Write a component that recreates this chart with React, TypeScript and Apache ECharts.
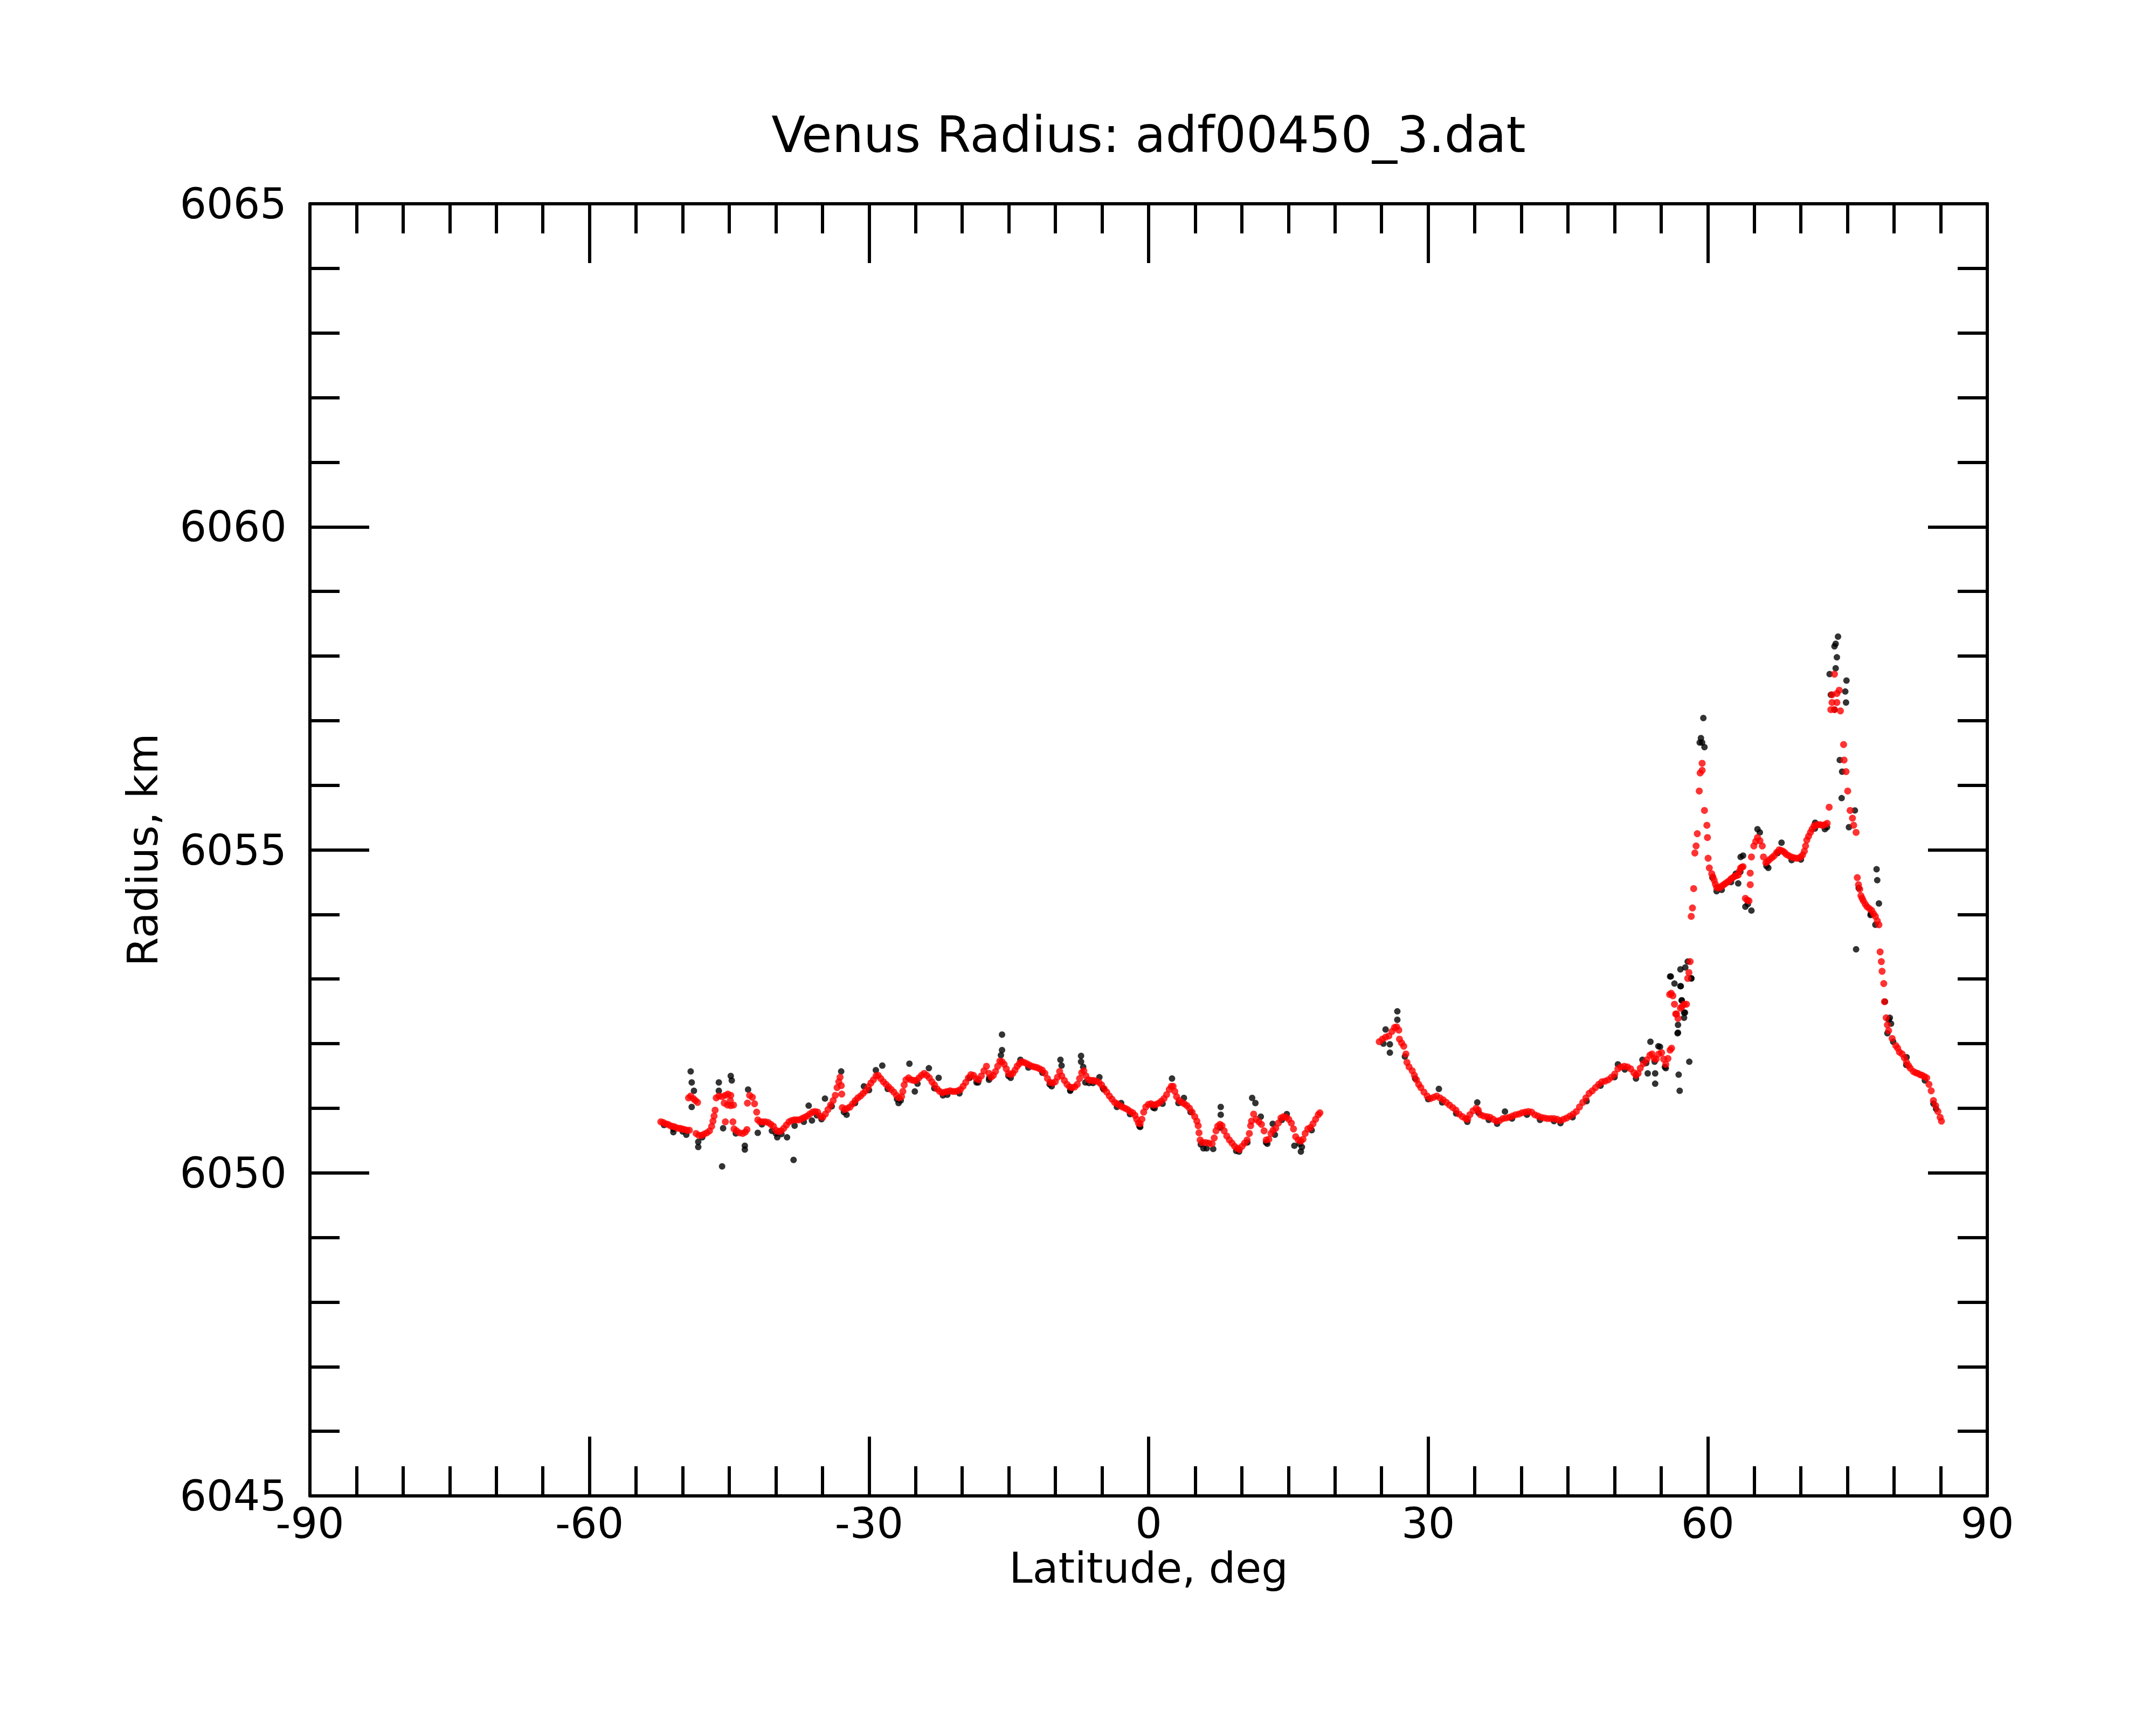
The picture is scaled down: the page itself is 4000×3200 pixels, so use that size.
import React, { useEffect, useRef } from "react";
import * as echarts from "echarts";

const TITLE = "Venus Radius: adf00450_3.dat";
const X_NAME = "Latitude, deg";
const Y_NAME = "Radius, km";
const X_MIN = -90, X_MAX = 90, X_STEP = 30;
const Y_MIN = 6045, Y_MAX = 6065, Y_STEP = 5;

// Smoothed radius (red), [latitude, radius km]
const redSouth: number[][] = [
  [-52.35,6050.79],[-52.09,6050.78],[-51.84,6050.76],[-51.58,6050.75],[-51.33,6050.73],[-51.07,6050.72],[-50.82,6050.71],[-50.56,6050.69],[-50.30,6050.69],[-50.05,6050.68],[-49.79,6050.67],[-49.54,6050.66],[-49.28,6050.66],
  [-49.37,6051.16],[-49.14,6051.19],[-48.86,6051.15],[-48.63,6051.12],[-48.40,6051.09],
  [-48.56,6050.61],[-48.28,6050.58],[-47.98,6050.58],[-47.70,6050.60],[-47.40,6050.62],[-47.12,6050.65],[-46.89,6050.72],[-46.75,6050.80],[-46.63,6050.88],[-46.52,6050.97],
  [-46.40,6051.16],[-46.12,6051.19],[-45.77,6051.18],[-45.42,6051.20],[-45.15,6051.22],[-44.84,6051.20],[-44.89,6051.12],[-45.54,6051.08],[-45.19,6051.05],[-44.84,6051.04],[-44.54,6051.05],
  [-45.42,6050.79],[-44.61,6050.79],
  [-44.49,6050.68],[-44.22,6050.65],[-43.91,6050.62],[-43.56,6050.61],[-43.29,6050.63],[-43.10,6050.67],
  [-43.05,6051.08],[-42.82,6051.20],[-42.52,6051.17],[-42.29,6051.07],[-42.06,6050.94],
  [-41.94,6050.82],[-41.71,6050.79],[-41.43,6050.79],[-41.12,6050.79],[-40.82,6050.78],[-40.54,6050.75],[-40.26,6050.72],[-39.99,6050.66],[-39.71,6050.64],[-39.43,6050.65],[-39.15,6050.69],[-38.87,6050.74],[-38.59,6050.79],[-38.31,6050.81],[-38.03,6050.82],[-37.75,6050.82],[-37.48,6050.82],[-37.20,6050.84],[-36.92,6050.86],[-36.64,6050.88],[-36.36,6050.91],[-36.08,6050.94],[-35.80,6050.95],[-35.52,6050.94],[-35.24,6050.88],[-34.97,6050.86],[-34.69,6050.91],[-34.41,6050.98],[-34.13,6051.05],[-33.85,6051.12],[-33.62,6051.20],[-33.43,6051.32],[-33.25,6051.41],[-33.11,6051.48],
  [-32.98,6051.35],[-32.93,6051.22],
  [-32.87,6051.01],[-32.60,6050.98],[-32.32,6051.00],[-32.04,6051.02],[-31.76,6051.07],[-31.48,6051.12],[-31.20,6051.16],[-30.92,6051.19],[-30.64,6051.23],[-30.36,6051.27],[-30.09,6051.33],[-29.81,6051.39],[-29.53,6051.44],[-29.25,6051.50],[-29.02,6051.51],[-28.74,6051.46],[-28.46,6051.41],[-28.18,6051.37],[-27.90,6051.33],[-27.62,6051.29],[-27.34,6051.25],[-27.06,6051.20],[-26.79,6051.16],[-26.51,6051.18],[-26.37,6051.26],[-26.23,6051.36],[-26.04,6051.44],[-25.76,6051.47],[-25.48,6051.44],[-25.20,6051.43],[-24.93,6051.43],[-24.65,6051.47],[-24.37,6051.51],[-24.09,6051.54],[-23.81,6051.51],[-23.53,6051.47],[-23.25,6051.41],[-22.97,6051.36],[-22.70,6051.30],[-22.42,6051.26],[-22.14,6051.24],[-21.86,6051.25],[-21.58,6051.26],[-21.30,6051.27],[-21.02,6051.26],[-20.74,6051.26],[-20.46,6051.27],[-20.19,6051.29],[-19.91,6051.34],[-19.63,6051.40],[-19.35,6051.47],[-19.07,6051.52],[-18.79,6051.51],[-18.51,6051.46],[-18.23,6051.44],[-17.95,6051.50],[-17.67,6051.58],[-17.40,6051.65],
];

const redEquator: number[][] = [
  [-17.13,6051.54],[-16.90,6051.48],[-16.66,6051.51],[-16.43,6051.57],[-16.20,6051.65],[-15.97,6051.73],[-15.73,6051.72],[-15.50,6051.68],[-15.27,6051.61],[-15.04,6051.54],[-14.80,6051.52],[-14.57,6051.54],[-14.34,6051.59],[-14.11,6051.65],[-13.87,6051.69],[-13.64,6051.72],[-13.36,6051.71],[-13.08,6051.69],[-12.81,6051.67],[-12.53,6051.65],[-12.25,6051.64],[-11.97,6051.63],[-11.69,6051.61],[-11.41,6051.59],[-11.13,6051.54],[-10.85,6051.46],[-10.57,6051.40],[-10.30,6051.39],[-10.02,6051.41],[-9.78,6051.48],[-9.55,6051.57],[-9.32,6051.50],[-9.04,6051.43],[-8.76,6051.37],[-8.48,6051.33],[-8.20,6051.32],[-7.92,6051.33],[-7.65,6051.37],[-7.41,6051.46],[-7.18,6051.55],[-6.95,6051.58],[-6.72,6051.50],[-6.44,6051.44],[-6.16,6051.43],[-5.88,6051.43],[-5.60,6051.42],[-5.32,6051.40],[-5.04,6051.36],[-4.76,6051.30],[-4.49,6051.25],[-4.21,6051.19],[-3.93,6051.14],[-3.65,6051.09],[-3.37,6051.07],[-3.09,6051.04],[-2.81,6051.02],[-2.53,6051.00],[-2.25,6050.98],[-1.98,6050.95],[-1.70,6050.93],[-1.46,6050.89],[-1.28,6050.83],[-1.09,6050.77],[-0.91,6050.76],[-0.72,6050.83],[-0.53,6050.94],[-0.30,6051.02],[-0.02,6051.06],[0.26,6051.07],[0.53,6051.05],[0.81,6051.06],[1.09,6051.08],[1.37,6051.11],[1.65,6051.15],[1.93,6051.21],[2.21,6051.29],[2.44,6051.34],[2.63,6051.34],[2.81,6051.26],[3.00,6051.18],[3.28,6051.12],[3.56,6051.09],[3.83,6051.07],[4.11,6051.04],[4.39,6051.00],[4.67,6050.94],[4.95,6050.87],[5.18,6050.80],[5.32,6050.73],[5.41,6050.62],[5.53,6050.51],[5.76,6050.47],[6.11,6050.47],[6.46,6050.46],[6.81,6050.45],[7.04,6050.54],[7.23,6050.65],[7.41,6050.72],[7.65,6050.75],[7.88,6050.73],[8.11,6050.65],[8.39,6050.57],[8.67,6050.51],[8.95,6050.46],[9.23,6050.41],[9.51,6050.38],[9.74,6050.36],[10.02,6050.41],[10.30,6050.46],[10.57,6050.51],[10.81,6050.61],[10.95,6050.73],[11.04,6050.80],[11.27,6050.91],[11.55,6050.83],[11.83,6050.79],[12.11,6050.75],[12.39,6050.65],[12.62,6050.51],[12.90,6050.52],[13.13,6050.61],[13.36,6050.66],[13.64,6050.69],[13.92,6050.77],[14.20,6050.85],[14.48,6050.87],[14.76,6050.86],[15.04,6050.83],[15.32,6050.77],[15.55,6050.68],[15.78,6050.56],[16.06,6050.51],[16.34,6050.49],[16.57,6050.52],[16.80,6050.61],[17.08,6050.68],[17.36,6050.70],[17.64,6050.76],[17.92,6050.83],[18.20,6050.90],[18.38,6050.93],
];

const redNorth: number[][] = [
  [24.75,6052.03],[25.09,6052.07],[25.43,6052.10],[25.78,6052.12],[26.12,6052.19],[26.39,6052.25],[26.62,6052.26],[26.85,6052.21],[26.92,6052.07],[27.15,6052.01],[27.38,6051.96],[27.61,6051.84],[27.72,6051.71],[27.95,6051.64],[28.29,6051.58],[28.52,6051.51],[28.75,6051.44],[28.98,6051.37],[29.21,6051.32],[29.55,6051.25],[29.89,6051.19],[30.24,6051.15],[30.58,6051.17],[30.92,6051.19],[31.26,6051.16],[31.61,6051.13],[31.95,6051.09],[32.29,6051.05],[32.64,6051.01],[32.98,6050.97],[33.32,6050.91],[33.67,6050.87],[34.01,6050.84],[34.24,6050.83],[34.47,6050.90],[34.81,6050.96],[35.15,6051.00],[35.38,6050.97],[35.61,6050.90],[35.95,6050.88],[36.30,6050.87],[36.64,6050.86],[36.98,6050.83],[37.32,6050.80],[37.67,6050.81],[38.01,6050.84],[38.35,6050.85],[38.70,6050.86],[39.04,6050.88],[39.38,6050.90],[39.73,6050.91],[40.07,6050.93],[40.41,6050.94],[40.75,6050.95],[41.10,6050.94],[41.44,6050.90],[41.78,6050.88],[42.13,6050.86],[42.47,6050.85],[42.81,6050.84],[43.16,6050.84],[43.50,6050.84],[43.84,6050.83],[44.18,6050.81],[44.53,6050.83],[44.87,6050.85],[45.21,6050.88],[45.56,6050.91],[45.90,6050.95],[46.24,6051.02],[46.59,6051.09],[46.93,6051.16],[47.27,6051.23],[47.61,6051.27],[47.96,6051.32],[48.30,6051.37],[48.64,6051.41],[48.99,6051.42],[49.33,6051.44],[49.67,6051.48],[50.02,6051.53],[50.36,6051.61],[50.70,6051.64],[51.05,6051.65],[51.39,6051.64],[51.73,6051.61],[52.07,6051.55],[52.30,6051.51],[52.53,6051.54],[52.76,6051.62],[53.10,6051.69],[53.45,6051.75],[53.79,6051.82],[54.02,6051.84],[54.25,6051.77],[54.47,6051.76],[54.75,6051.84],[55.05,6051.86],[55.27,6051.76],[55.50,6051.68],[55.73,6051.77],[55.96,6051.90],[56.12,6051.93],
  [55.91,6052.76],[56.08,6052.78],[56.26,6052.74],[56.43,6052.61],[56.56,6052.46],[56.65,6052.46],[56.81,6052.39],[57.07,6052.55],[57.22,6052.57],[57.46,6052.61],[57.72,6052.61],[57.85,6053.01],[57.98,6053.10],[58.11,6053.27],
  [58.23,6053.97],[58.36,6054.10],[58.49,6054.40],[58.62,6054.95],[58.75,6055.06],[58.88,6055.25],[59.09,6055.91],[59.19,6056.19],[59.40,6056.23],[59.40,6056.34],[59.65,6055.61],[59.91,6055.38],[59.97,6055.19],[60.04,6054.87],[60.17,6054.72],[60.43,6054.63],[60.56,6054.58],[60.69,6054.53],[60.82,6054.47],[60.95,6054.42],[61.14,6054.41],[61.33,6054.42],[61.52,6054.44],[61.72,6054.46],[61.90,6054.48],[62.11,6054.50],[62.30,6054.52],[62.50,6054.55],[62.70,6054.57],[62.88,6054.59],[63.07,6054.60],[63.27,6054.61],[63.40,6054.67],[63.53,6054.72],[63.66,6054.73],[63.79,6054.74],
  [64.04,6054.25],[64.24,6054.22],[64.43,6054.21],[64.56,6054.46],[64.56,6054.64],[64.69,6054.89],[64.95,6055.06],[65.15,6055.13],[65.34,6055.19],[65.60,6055.14],[65.85,6055.06],[65.98,6054.89],[66.24,6054.80],[66.43,6054.82],[66.63,6054.85],[66.90,6054.88],[67.14,6054.91],[67.40,6054.96],[67.66,6055.00],[67.86,6054.99],[68.05,6054.98],[68.24,6054.96],[68.43,6054.93],[68.70,6054.91],[68.95,6054.89],[69.20,6054.88],[69.47,6054.87],[69.72,6054.87],[69.98,6054.89],[70.18,6054.92],[70.37,6054.98],[70.50,6055.06],[70.63,6055.15],[70.82,6055.21],[71.02,6055.27],[71.20,6055.32],[71.40,6055.37],[71.60,6055.38],[71.79,6055.39],[72.05,6055.39],[72.31,6055.38],[72.57,6055.39],[72.82,6055.41],[73.03,6055.66],
  [73.21,6057.17],[73.60,6057.17],[73.34,6057.28],[73.86,6057.28],[74.24,6057.15],[73.34,6057.40],[73.86,6057.42],[74.11,6057.47],[73.60,6057.72],
  [74.58,6056.63],[74.63,6056.39],[74.84,6056.21],[75.02,6055.91],[75.28,6055.61],[75.53,6055.49],[75.66,6055.38],[75.92,6055.27],[76.05,6054.57],[76.18,6054.46],[76.31,6054.39],[76.44,6054.29],[76.57,6054.25],[76.70,6054.21],[76.90,6054.16],[77.09,6054.12],[77.35,6054.09],[77.60,6054.06],[77.80,6054.01],[77.99,6053.97],[78.20,6053.90],[78.37,6053.84],[78.50,6053.42],[78.63,6053.27],[78.71,6053.12],[78.89,6052.93],[78.97,6052.65],[79.15,6052.40],[79.28,6052.29],[79.41,6052.20],[79.79,6052.08],[80.18,6051.97],[80.38,6051.93],[80.57,6051.87],[80.86,6051.84],[81.10,6051.78],[81.34,6051.71],[81.55,6051.66],[81.73,6051.62],[82.06,6051.57],[82.30,6051.55],[82.54,6051.54],[82.78,6051.52],[83.02,6051.51],[83.26,6051.49],[83.50,6051.47],[83.74,6051.37],[83.98,6051.27],[84.22,6051.12],[84.46,6051.04],[84.70,6050.95],[84.94,6050.86],[85.08,6050.80],
];

// Raw radius samples (black) that show around or beside the smoothed curve
const blackSouth: number[][] = [
  [-52.0,6050.74],[-51.0,6050.68],[-50.0,6050.64],[-47.9,6050.55],[-44.3,6050.61],[-41.5,6050.75],[-40.0,6050.61],[-39.4,6050.60],[-37.0,6050.79],[-35.6,6050.89],[-35.1,6050.83],[-34.0,6051.03],[-32.7,6050.94],[-31.5,6051.08],[-30.0,6051.28],[-28.0,6051.30],[-27.0,6051.14],[-26.6,6051.12],[-24.8,6051.38],[-23.0,6051.31],[-21.6,6051.21],[-20.3,6051.23],[-19.2,6051.47],[-18.3,6051.40],
  [-49.14,6051.57],[-49.03,6051.40],[-48.79,6051.27],[-49.03,6051.02],[-48.33,6050.40],[-48.33,6050.48],[-46.12,6051.40],[-46.12,6051.27],[-44.84,6051.50],[-44.73,6051.43],[-45.77,6050.10],[-45.66,6050.69],[-42.98,6051.29],[-43.33,6050.42],[-43.33,6050.36],[-41.94,6050.62],[-39.85,6050.55],[-38.80,6050.55],[-38.10,6050.20],[-32.99,6051.57],[-28.58,6051.66],[-29.27,6051.59],[-25.67,6051.69],[-23.58,6051.62],[-22.53,6051.47],[-34.73,6051.15],[-30.55,6051.34],[-26.83,6051.08],[-25.09,6051.26],[-22.07,6051.20],[-18.47,6051.40],[-49.61,6050.59],[-51.00,6050.63],[-40.43,6050.65],[-32.41,6050.90],[-36.13,6050.81],[-36.48,6051.04],[-37.99,6050.73],
];

const blackEquator: number[][] = [
  [-17.1,6051.47],[-14.8,6051.47],[-12.9,6051.63],[-11.4,6051.55],[-10.4,6051.34],[-8.4,6051.28],[-6.4,6051.39],[-4.9,6051.31],[-3.4,6051.02],[-2.0,6050.91],[-0.9,6050.71],[0.5,6051.01],[1.5,6051.07],[3.2,6051.08],[4.5,6050.94],[5.6,6050.44],[7.7,6050.70],[9.4,6050.34],[10.6,6050.47],[12.6,6050.47],[14.3,6050.82],[16.2,6050.45],[17.5,6050.66],
  [-15.73,6052.14],[-15.73,6051.90],[-15.85,6051.82],[-9.46,6051.75],[-9.34,6051.66],[-7.25,6051.81],[-7.25,6051.72],[-7.02,6051.64],[2.51,6051.46],[7.74,6051.02],[7.74,6050.90],[11.11,6051.16],[11.46,6051.08],[12.04,6050.87],[5.88,6050.38],[6.93,6050.37],[9.71,6050.33],[16.34,6050.33],[15.64,6050.42],[12.74,6050.45],[13.32,6050.76],[13.55,6050.59],[14.83,6050.91],[-17.13,6051.44],[-15.04,6051.50],[-13.76,6051.75],[-10.62,6051.37],[-8.41,6051.27],[-6.79,6051.40],[-5.97,6051.39],[-5.28,6051.48],[-4.81,6051.29],[-2.95,6051.08],[-0.98,6050.72],[0.65,6051.00],[3.79,6051.16],[6.23,6050.38],[16.45,6050.40],
];

const blackNorth: number[][] = [
  [25.2,6052.00],[27.5,6051.80],[28.6,6051.46],[30.0,6051.14],[31.5,6051.09],[33.0,6050.92],[34.2,6050.79],[35.4,6050.93],[36.5,6050.82],[37.4,6050.76],[39.0,6050.84],[40.6,6050.90],[42.0,6050.82],[43.5,6050.80],[44.2,6050.77],[45.5,6050.86],[47.0,6051.11],[48.5,6051.35],[50.0,6051.48],[51.1,6051.60],[52.3,6051.46],[53.4,6051.70],[54.3,6051.72],[55.4,6051.64],
  [26.69,6052.50],[26.69,6052.37],[25.43,6052.22],[25.89,6051.99],[25.89,6051.86],[31.15,6051.30],[35.27,6051.09],[38.24,6050.95],[50.36,6051.68],[52.99,6051.75],
  [53.56,6051.54],[54.36,6051.54],[54.36,6051.38],[54.70,6051.96],[55.50,6051.62],[56.88,6051.52],[56.99,6051.27],[58.02,6051.72],[56.76,6052.16],[55.96,6053.04],[57.11,6052.89],[57.22,6052.67],[57.56,6052.48],[58.25,6053.01],
  [53.85,6052.03],[54.88,6051.95],[58.23,6053.01],[57.85,6053.27],[57.07,6053.15],[57.59,6053.18],[56.04,6053.04],[56.43,6052.93],[57.07,6052.89],[57.20,6052.67],[57.46,6052.48],[57.46,6052.40],[56.81,6052.29],[56.81,6052.17],
  [59.53,6057.04],[59.27,6056.73],[59.40,6056.66],[59.65,6056.59],[59.14,6056.66],[60.95,6054.36],[63.01,6054.63],[63.27,6054.48],[63.79,6054.91],[63.53,6054.89],[64.04,6054.12],[64.69,6054.06],[65.34,6055.32],[65.59,6055.27],[66.50,6054.72],[67.92,6055.11],[71.53,6055.42],[72.57,6055.32],
  [60.5,6054.57],[61.5,6054.38],[62.5,6054.50],[63.5,6054.66],[64.3,6054.16],[66.3,6054.75],[67.5,6054.95],[69.0,6054.84],[70.0,6054.85],[71.5,6055.33],[72.8,6055.35],
  [73.98,6058.30],[73.73,6058.19],[73.60,6058.15],[73.86,6057.98],[73.73,6057.81],[73.08,6057.72],[74.89,6057.62],[74.76,6057.45],[74.84,6057.28],[73.21,6057.40],[73.60,6057.17],[74.17,6056.39],[74.42,6056.21],[74.37,6055.80],[75.79,6055.61],[75.15,6055.35],[75.92,6053.46],
  [76.2,6054.41],[77.5,6054.01],[78.12,6054.70],[78.19,6054.53],[78.37,6054.17],[77.99,6053.84],[77.47,6053.99],[79.02,6052.65],[79.54,6052.40],[79.67,6052.31],[79.28,6052.16],[79.42,6052.37],[79.9,6052.03],[81.3,6051.67],[81.34,6051.79],[83.3,6051.43],[84.22,6051.07],[84.5,6050.99],
];

const FONT = "DejaVu Sans";
const plainLabel = (v: number) => String(Math.round(v));

function makeXAxis(pos: "bottom" | "top") {
  const main = pos === "bottom";
  return {
    type: "value",
    position: pos,
    min: X_MIN,
    max: X_MAX,
    interval: X_STEP,
    name: main ? X_NAME : "",
    nameLocation: "middle",
    nameGap: 94,
    nameTextStyle: { fontFamily: FONT, fontSize: 78, color: "#000" },
    axisLine: { show: true, onZero: false, lineStyle: { color: "#000", width: 6 } },
    axisTick: { show: true, inside: true, length: 110, lineStyle: { color: "#000", width: 6 } },
    minorTick: { show: true, splitNumber: 6, length: 55, lineStyle: { color: "#000", width: 6 } },
    axisLabel: { show: main, margin: 12, fontFamily: FONT, fontSize: 78, color: "#000", formatter: plainLabel },
    splitLine: { show: false },
    minorSplitLine: { show: false },
  };
}

function makeYAxis(pos: "left" | "right") {
  const main = pos === "left";
  return {
    type: "value",
    position: pos,
    min: Y_MIN,
    max: Y_MAX,
    interval: Y_STEP,
    name: main ? Y_NAME : "",
    nameLocation: "middle",
    nameGap: 271,
    nameTextStyle: { fontFamily: FONT, fontSize: 78, color: "#000" },
    axisLine: { show: true, onZero: false, lineStyle: { color: "#000", width: 6 } },
    axisTick: { show: true, inside: true, length: 110, lineStyle: { color: "#000", width: 6 } },
    minorTick: { show: true, splitNumber: 5, length: 55, lineStyle: { color: "#000", width: 6 } },
    axisLabel: { show: main, margin: 43, fontFamily: FONT, fontSize: 78, color: "#000", formatter: plainLabel },
    splitLine: { show: false },
    minorSplitLine: { show: false },
  };
}

export default function App() {
  const ref = useRef<HTMLDivElement>(null);
  useEffect(() => {
    if (!ref.current) return;
    const chart = echarts.init(ref.current, null, { renderer: "svg" });
    chart.setOption({
      animation: false,
      backgroundColor: "#ffffff",
      title: {
        text: TITLE,
        left: 2131,
        top: 204,
        padding: 0,
        textAlign: "center",
        textStyle: { fontFamily: FONT, fontSize: 92, fontWeight: "normal", color: "#000" },
      },
      grid: { left: 575, right: 313, top: 378, bottom: 425, containLabel: false },
      xAxis: [makeXAxis("bottom"), makeXAxis("top")],
      yAxis: [makeYAxis("left"), makeYAxis("right")],
      series: [
        {
          type: "scatter",
          xAxisIndex: 0,
          yAxisIndex: 0,
          symbol: "circle",
          symbolSize: 12,
          itemStyle: { color: "#000000" },
          data: [...blackSouth, ...blackEquator, ...blackNorth],
          silent: true,
        },
        {
          type: "scatter",
          xAxisIndex: 0,
          yAxisIndex: 0,
          symbol: "circle",
          symbolSize: 13,
          itemStyle: { color: "#ff0000" },
          data: [...redSouth, ...redEquator, ...redNorth],
          silent: true,
        },
      ],
    });
    return () => chart.dispose();
  }, []);
  return (
    <div
      ref={ref}
      style={{ position: "absolute", left: 0, top: 0, width: 4000, height: 3200, background: "#fff" }}
    />
  );
}
